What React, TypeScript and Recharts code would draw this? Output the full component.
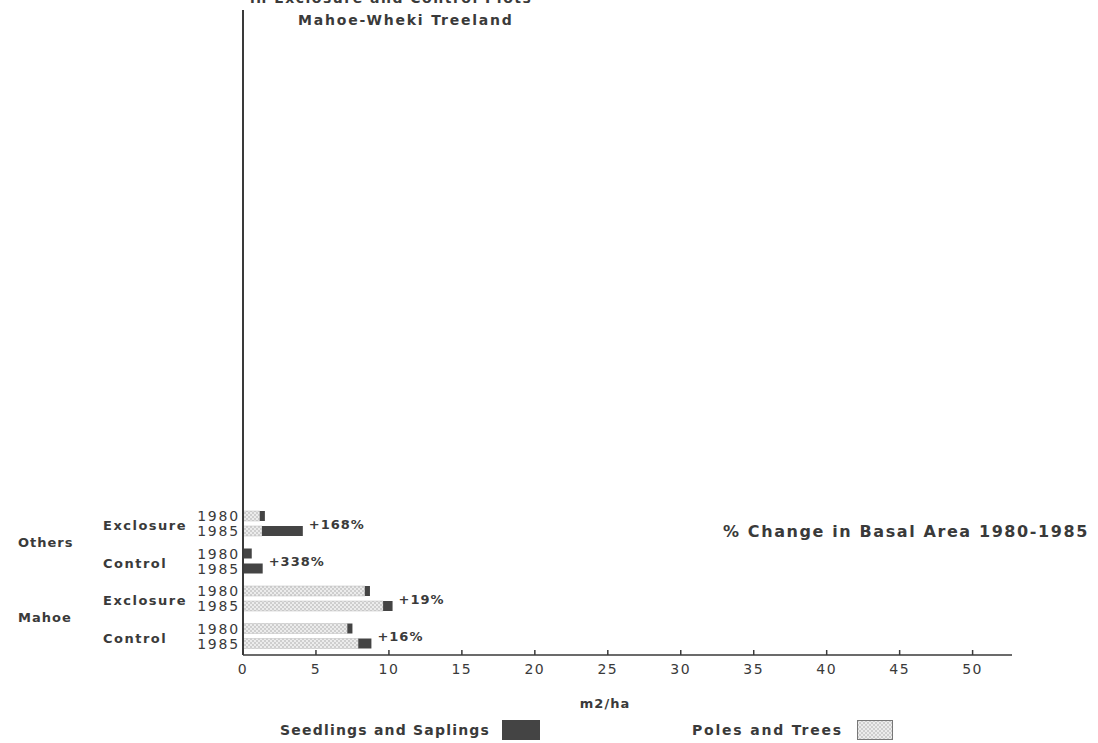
import React from 'react';
import { BarChart, Bar, XAxis, YAxis, Legend, LabelList } from 'recharts';

// plots, top to bottom
const plotIds = ['others-excl', 'others-ctrl', 'mahoe-excl', 'mahoe-ctrl'];
const treatments = ['Exclosure', 'Control', 'Exclosure', 'Control'];
const speciesNames = ['Others', 'Others', 'Mahoe', 'Mahoe'];
const years = ['1980', '1985'];

// basal area, m2/ha
const poles1980 = [1.15, 0, 8.35, 7.15];
const seedlings1980 = [0.35, 0.6, 0.35, 0.35];
const poles1985 = [1.3, 0, 9.6, 7.9];
const seedlings1985 = [2.8, 1.35, 0.65, 0.9];
const pctChange = ['+168%', '+338%', '+19%', '+16%'];

const xTicks = [0, 5, 10, 15, 20, 25, 30, 35, 40, 45, 50];
const xMax = 52.7;

const INK = '#3a3a3a';
const FONT = '"DejaVu Sans", sans-serif';

const rows = plotIds.map((id, i) => ({
  id,
  poles1980: poles1980[i],
  seed1980: seedlings1980[i],
  poles1985: poles1985[i],
  seed1985: seedlings1985[i],
  change: pctChange[i],
}));

const txt = {
  fontFamily: FONT,
  fontWeight: 700,
  fill: INK,
};

function XTick({ x, y, payload }: any) {
  return (
    <g>
      <line x1={x} x2={x} y1={y} y2={y - 5} stroke={INK} strokeWidth={1.5} />
      <text x={x} y={y + 14} textAnchor="middle" dominantBaseline="central" fontSize={14} letterSpacing={1.5} {...txt} fontWeight={400}>
        {payload.value}
      </text>
    </g>
  );
}

function YTick(props: any) {
  const { x, y } = props;
  const i = props.payload?.index ?? props.index;
  return (
    <g>
      <text x={x - 140} y={y + 2} dominantBaseline="central" fontSize={13} letterSpacing={1.5} {...txt}>
        {treatments[i]}
      </text>
      <text x={x - 3} y={y - 7.5} textAnchor="end" dominantBaseline="central" fontSize={14} letterSpacing={1.8} {...txt} fontWeight={400}>
        {years[0]}
      </text>
      <text x={x - 3} y={y + 7.5} textAnchor="end" dominantBaseline="central" fontSize={14} letterSpacing={1.8} {...txt} fontWeight={400}>
        {years[1]}
      </text>
      {i % 2 === 0 && (
        <text x={x - 225} y={y + 19} dominantBaseline="central" fontSize={13} letterSpacing={1} {...txt}>
          {speciesNames[i]}
        </text>
      )}
    </g>
  );
}

function ChangeLabel(props: any) {
  const { x, y, width, height, value } = props;
  return (
    <text x={x + width + 6} y={y + height / 2 - 7} dominantBaseline="central" fontSize={13} letterSpacing={1} {...txt}>
      {value}
    </text>
  );
}

function LegendBox() {
  const item = { display: 'flex', alignItems: 'center', position: 'absolute' as const, top: 0 };
  const label = { fontFamily: FONT, fontWeight: 700, fontSize: 14, letterSpacing: 1.2, color: INK };
  return (
    <div style={{ position: 'relative', height: 24 }}>
      <div style={{ ...item, left: 280 }}>
        <span style={label}>Seedlings and Saplings</span>
        <span style={{ display: 'inline-block', width: 38, height: 20, background: '#444', marginLeft: 12 }} />
      </div>
      <div style={{ ...item, left: 692 }}>
        <span style={{ ...label, letterSpacing: 1.8 }}>Poles and Trees</span>
        <svg width={36} height={20} style={{ marginLeft: 14 }}>
          <rect x={0.5} y={0.5} width={35} height={19} fill="url(#poles)" stroke="#777" />
        </svg>
      </div>
    </div>
  );
}

export default function App() {
  return (
    <div style={{ width: 1098, height: 743, background: '#fff' }}>
      <style>{'body{margin:0}'}</style>
      <BarChart
        width={1098}
        height={743}
        data={rows}
        layout="vertical"
        margin={{ top: 10, right: 86, left: 0, bottom: 0 }}
        barSize={10}
        barGap={5}
      >
        <defs>
          <pattern id="poles" width={4} height={4} patternUnits="userSpaceOnUse">
            <rect width={4} height={4} fill="#ececec" />
            <circle cx={1} cy={1} r={0.8} fill="#a8a8a8" />
            <circle cx={3} cy={3} r={0.8} fill="#a8a8a8" />
          </pattern>
        </defs>
        <XAxis
          type="number"
          domain={[0, xMax]}
          ticks={xTicks}
          allowDataOverflow
          height={88}
          tickSize={0}
          tickMargin={0}
          tickLine={false}
          tick={<XTick />}
          axisLine={{ stroke: INK, strokeWidth: 1.5 }}
        />
        <YAxis
          type="category"
          dataKey="id"
          width={243}
          interval={0}
          padding={{ top: 495, bottom: 0 }}
          tickSize={0}
          tickMargin={0}
          tickLine={false}
          tick={<YTick />}
          axisLine={{ stroke: INK, strokeWidth: 2 }}
        />
        <Bar dataKey="poles1980" stackId="y1980" fill="url(#poles)" stroke="#bbb" strokeWidth={0.5} isAnimationActive={false} />
        <Bar dataKey="seed1980" stackId="y1980" fill="#444" isAnimationActive={false} />
        <Bar dataKey="poles1985" stackId="y1985" fill="url(#poles)" stroke="#bbb" strokeWidth={0.5} isAnimationActive={false} />
        <Bar dataKey="seed1985" stackId="y1985" fill="#444" isAnimationActive={false}>
          <LabelList dataKey="change" content={<ChangeLabel />} />
        </Bar>
        <Legend
          layout="horizontal"
          verticalAlign="middle"
          align="center"
          wrapperStyle={{ top: 720, left: 0, width: 1098 }}
          content={<LegendBox />}
        />
        <text x={250} y={3} fontSize={14} letterSpacing={1.5} {...txt}>
          in Exclosure and Control Plots
        </text>
        <text x={298} y={20} dominantBaseline="central" fontSize={14} letterSpacing={1.8} {...txt}>
          Mahoe-Wheki Treeland
        </text>
        <text x={723} y={531} dominantBaseline="central" fontSize={16} letterSpacing={1.6} {...txt}>
          % Change in Basal Area 1980-1985
        </text>
        <text x={605} y={703} textAnchor="middle" dominantBaseline="central" fontSize={13} letterSpacing={1} {...txt}>
          m2/ha
        </text>
      </BarChart>
    </div>
  );
}
